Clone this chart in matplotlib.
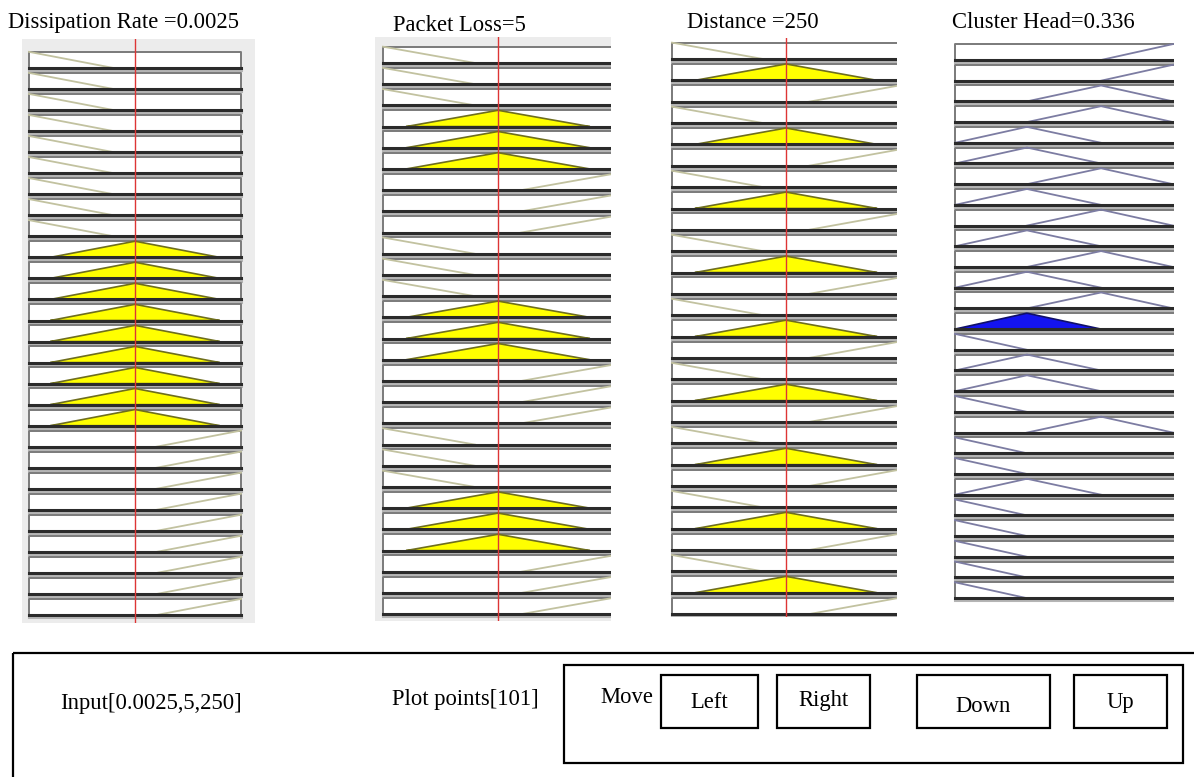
"""Fuzzy rule viewer: 27 rules, three inputs and one output (Cluster Head)."""

import matplotlib
matplotlib.use("Agg")
import matplotlib.pyplot as plt
import numpy as np
from matplotlib.patches import Rectangle

plt.rcParams["font.family"] = ["Liberation Serif", "DejaVu Serif"]

W, H = 1194, 777

# ---- data -----------------------------------------------------------------
# membership function used by each of the 27 rules (L = low, M = medium, H = high)
DISSIPATION_MF = list("LLLLLLLLLMMMMMMMMMHHHHHHHHH")
PACKET_LOSS_MF = list("LLLMMMHHHLLLMMMHHHLLLMMMHHH")
DISTANCE_MF = list("LMHLMHLMHLMHLMHLMHLMHLMHLMH")
CLUSTER_HEAD_MF = ["H", "H", "MH", "MH", "ML", "ML", "MH", "ML", "MH",
                   "ML", "MH", "ML", "MH", "ML", "L", "ML", "ML", "L",
                   "MH", "L", "L", "ML", "L", "L", "L", "L", "L"]

INPUT_VALUES = [0.0025, 5, 250]
INPUT_RANGES = [(0, 0.005), (0, 10), (0, 500)]
TITLES = ["Dissipation Rate =0.0025", "Packet Loss=5", "Distance =250", "Cluster Head=0.336"]
PLOT_POINTS = 101

# breakpoints on a normalised 0..1 universe
INPUT_MF_X = {"L": [0.0, 0.4], "M": [0.1, 0.5, 0.9], "H": [0.6, 1.0]}
INPUT_MF_Y = {"L": [1, 0], "M": [0, 1, 0], "H": [0, 1]}
OUTPUT_MF_X = {"L": [0.0, 0.33], "ML": [0.0, 0.33, 0.67], "MH": [0.33, 0.67, 1.0], "H": [0.67, 1.0]}
OUTPUT_MF_Y = {"L": [1, 0], "ML": [0, 1, 0], "MH": [0, 1, 0], "H": [0, 1]}

# ---- layout (pixels) --------------------------------------------------------
PANELS = [
    dict(u0=29, uw=212, y0=47.0, pitch=21.04, frame=(22, 255, 39, 623), right=1.0, face="#ececec"),
    dict(u0=383, uw=230, y0=41.8, pitch=21.2, frame=(375, 611, 37, 621), right=1.05, face="#ececec"),
    dict(u0=672, uw=228, y0=37.7, pitch=21.35, frame=(668, 897, 38, 617), right=1.05, face="white"),
    dict(u0=955, uw=218, y0=39.3, pitch=20.7, frame=(951, 1174, 38, 607), right=1.05, face="white"),
]
TITLE_POS = [(8, 28), (393, 31), (687, 28), (952, 28)]
BOX_TOP = 0.23
FS = 16.3

fig = plt.figure(figsize=(W / 100, H / 100), dpi=100)


def panel_axes(p):
    x0, x1, y0, y1 = p["frame"]
    ax = fig.add_axes([x0 / W, 1 - y1 / H, (x1 - x0) / W, (y1 - y0) / H])
    ax.set_xlim((x0 - p["u0"]) / p["uw"], (x1 - p["u0"]) / p["uw"])
    ax.set_ylim((y1 - p["y0"]) / p["pitch"], (y0 - p["y0"]) / p["pitch"])
    ax.set_facecolor(p["face"])
    for s in ax.spines.values():
        s.set_visible(False)
    ax.set_xticks([])
    ax.set_yticks([])
    return ax


def draw_row(ax, k, right, xs, ys, strength, line, face, edge):
    top, bot = k + BOX_TOP, k + 1.0
    ax.add_patch(Rectangle((0, top), right, bot - top, facecolor="white",
                           edgecolor="#7a7a7a", lw=1.4, joinstyle="round", zorder=1))
    ax.plot([0, right], [bot + 0.1] * 2, color="#b5b5b5", lw=2.2, zorder=1)
    height = bot - top
    if strength > 0:
        u = np.linspace(xs[0], xs[-1], PLOT_POINTS)
        mu = np.minimum(np.interp(u, xs, ys), strength)
        ax.fill(np.r_[u, u[::-1]], np.r_[bot - mu * height, np.full_like(u, bot)],
                facecolor=face, edgecolor=edge, lw=1.2, zorder=2)
    else:
        ax.plot(xs, bot - np.asarray(ys) * height, color=line, lw=1.3, zorder=2)
    ax.plot([0, right], [bot, bot], color="#2b2b2b", lw=2.2, zorder=3)


input_mfs = [DISSIPATION_MF, PACKET_LOSS_MF, DISTANCE_MF]
norm_inputs = [(v - lo) / (hi - lo) for v, (lo, hi) in zip(INPUT_VALUES, INPUT_RANGES)]

firing = []
for k in range(len(CLUSTER_HEAD_MF)):
    mus = [float(np.interp(norm_inputs[i], INPUT_MF_X[m[k]], INPUT_MF_Y[m[k]]))
           for i, m in enumerate(input_mfs)]
    firing.append(min(mus))

for i, mfs in enumerate(input_mfs):
    p = PANELS[i]
    ax = panel_axes(p)
    for k, m in enumerate(mfs):
        mu = float(np.interp(norm_inputs[i], INPUT_MF_X[m], INPUT_MF_Y[m]))
        draw_row(ax, k, p["right"], INPUT_MF_X[m], INPUT_MF_Y[m], mu,
                 "#c2c2a0", "#ffff00", "#6e6e1e")
    ax.axvline(norm_inputs[i], color="#dd3535", lw=1.0, zorder=4)

p = PANELS[3]
ax = panel_axes(p)
for k, m in enumerate(CLUSTER_HEAD_MF):
    draw_row(ax, k, p["right"], OUTPUT_MF_X[m], OUTPUT_MF_Y[m], firing[k],
             "#7c7ca2", "#1414f0", "#10106a")

# ---- titles and bottom control strip ----------------------------------------
ui = fig.add_axes([0, 0, 1, 1], zorder=-1)
ui.set_xlim(0, W)
ui.set_ylim(H, 0)
ui.set_axis_off()

for (x, y), t in zip(TITLE_POS, TITLES):
    ui.text(x, y, t, fontsize=FS, va="baseline", ha="left")

ui.add_patch(Rectangle((13, 653), 1300, 200, fill=False, lw=1.6, ec="black"))
ui.add_patch(Rectangle((564, 665), 619, 98, fill=False, lw=1.6, ec="black"))
buttons = [("Left", 661, 758, 708), ("Right", 777, 870, 706),
           ("Down", 917, 1050, 712), ("Up", 1074, 1167, 708)]
for label, x0, x1, yb in buttons:
    ui.add_patch(Rectangle((x0, 675), x1 - x0, 53, fill=False, lw=1.6, ec="black"))
    ui.text((x0 + x1) / 2, yb, label, fontsize=FS, ha="center", va="baseline")

ui.text(600, 703, "Move", fontsize=FS, va="baseline")
ui.text(60, 709, "Input[" + ",".join(str(v) for v in INPUT_VALUES) + "]", fontsize=FS, va="baseline")
ui.text(392, 705, f"Plot points[{PLOT_POINTS}]", fontsize=FS, va="baseline")

fig.savefig("out.png", dpi=100)
